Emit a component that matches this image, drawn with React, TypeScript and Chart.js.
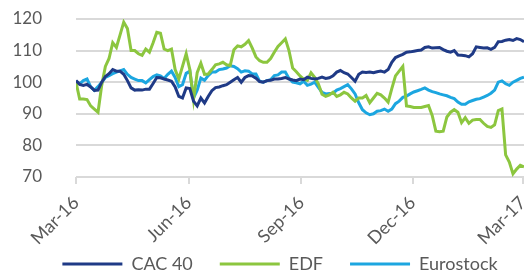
import { useEffect, useRef } from "react";
import { Chart, registerables } from "chart.js";

Chart.register(...registerables);

// Days since 1 Mar 2016
const days = [
  0, 3, 6, 9, 12, 15, 18, 21, 24, 27, 30, 33, 36, 39, 42, 45, 48, 51, 54, 57,
  60, 63, 66, 69, 72, 75, 78, 81, 84, 87, 90, 93, 96, 99, 102, 105, 108, 111, 114, 117,
  120, 123, 126, 129, 132, 135, 138, 141, 144, 147, 150, 153, 156, 159, 162, 165, 168, 171, 174, 177,
  180, 183, 186, 189, 192, 195, 198, 201, 204, 207, 210, 213, 216, 219, 222, 225, 228, 231, 234, 237,
  240, 243, 246, 249, 252, 255, 258, 261, 264, 267, 270, 273, 276, 279, 282, 285, 288, 291, 294, 297,
  300, 303, 306, 309, 312, 315, 318, 321, 324, 327, 330, 333, 336, 339, 342, 345, 348, 351, 354, 357,
  360, 363, 366,
];

const cac40 = [
  100.5, 99.3, 99, 99.3, 98.5, 97.4, 97.5, 100, 101.8, 102.7, 104, 103.5, 103.5, 102.5, 100.5, 98.2, 97.5, 97.6, 97.5, 97.8,
  97.8, 99.6, 101.5, 101.4, 101, 100.7, 100.3, 98.5, 95.5, 95, 98.2, 98, 94, 92.5, 95, 93.4, 95.5, 97.3, 98.3, 98.5,
  98.9, 99.2, 100, 100.8, 101.5, 100, 101.5, 102.1, 102, 101.3, 100.2, 100, 100.5, 100.6, 101, 101, 101.2, 101.5, 101, 100.7,
  100.5, 101, 100.8, 101.6, 101.2, 101, 101.2, 101.6, 101.2, 101.4, 102, 103.2, 103.7, 103, 102.6, 101.5, 100.3, 102.5, 103.2, 103.1,
  103.2, 103, 103.3, 103.5, 103.2, 104, 106.3, 107.8, 108.3, 108.8, 109.5, 109.6, 109.8, 110, 110.2, 111, 111.2, 110.8, 110.9, 111,
  110.3, 109.8, 109.5, 110, 108.6, 108.5, 108.4, 108, 109, 111.2, 111, 110.8, 110.9, 110.4, 111, 112.8, 112.9, 113.3, 113.5, 113.2,
  113.8, 113.5, 112.8,
];

const edf = [
  100, 94.7, 94.7, 94.5, 92.5, 91.5, 90.5, 99, 105, 107.5, 112.5, 111, 115, 119, 117, 110, 110, 109, 108.5, 110.5,
  109.5, 112.5, 115.8, 115.5, 110.5, 110, 110.5, 104, 101, 105, 109, 104, 94.5, 103, 106, 102.5, 102.6, 104, 105.5, 105.8,
  106.3, 105.5, 105.3, 110.3, 111.5, 111.2, 112, 113.2, 110.8, 108, 106.8, 106.3, 106.3, 107.5, 109.5, 111.3, 112.5, 113.7, 110, 104.5,
  103.3, 102, 101, 100.6, 103, 101.5, 99.5, 96.2, 95.5, 96, 96.8, 95.5, 96, 96.8, 96.3, 95, 94, 95, 95, 95.8,
  93.5, 95, 96.5, 96, 95, 93.7, 98, 102, 103.5, 105, 92.5, 92.3, 92, 92, 92, 92.3, 92.6, 89.5, 84.5, 84.3,
  84.5, 89, 90.5, 91.3, 90.5, 87.2, 88.8, 87, 88, 88.2, 88.2, 87, 86, 85.7, 86.5, 91, 91.5, 77, 74.7, 71,
  72.5, 73.7, 73.2,
];

const eurostock = [
  100.3, 99.5, 100.5, 101, 98.5, 97.4, 98.6, 100, 101.5, 102.1, 102.7, 103.2, 103.6, 104, 102.5, 101.5, 101, 100.5, 100.5, 99.8,
  100.8, 101.8, 102.3, 102, 101.2, 102.5, 103.5, 101.5, 98.6, 99.2, 102.8, 103.5, 95, 97.5, 101.3, 100.6, 102.1, 103.2, 103.2, 104,
  104.2, 104.5, 105.2, 105, 104.3, 103.2, 103.6, 103.5, 102.6, 102.6, 100.3, 100, 100.5, 100.8, 102.1, 102.3, 103.2, 103.2, 101.2, 100,
  99.8, 99.5, 100.3, 99, 99.4, 100, 98.4, 96.8, 96.3, 96.4, 96.5, 97.5, 98, 98.6, 99.2, 97.9, 96.3, 93.5, 91.3, 90.3,
  89.7, 90, 90.8, 91, 91.5, 90.8, 91.5, 93.2, 94, 95.2, 95.6, 96.3, 96.9, 97.3, 97.7, 98.2, 97.5, 97, 96.7, 96.3,
  96, 95.7, 95.2, 94.8, 93.7, 93, 93, 93.8, 94.2, 94.6, 94.8, 95.3, 95.8, 96.5, 97.5, 100, 100.4, 99.5, 99, 100,
  100.6, 101.2, 101.6,
];

const tickDays = [0, 92, 184, 275, 365];
const tickLabels = ["Mar-16", "Jun-16", "Sep-16", "Dec-16", "Mar-17"];
const yTicks = [70, 80, 90, 100, 110, 120];

const seriesNames = ["CAC 40", "EDF", "Eurostock"];
const seriesColors = ["#1f3a86", "#8cc63f", "#1ca6e0"];

const FONT = "Lato, 'Open Sans', sans-serif";
const TEXT = "#595959";
const GRID = "#d9d9d9";

const layoutTweak = {
  id: "layoutTweak",
  afterLayout(chart: any) {
    const lg = chart.legend;
    if (lg) {
      lg.left += 18;
      lg.right += 18;
      lg.top += 7;
      lg.bottom += 7;
    }
    const xs = chart.scales.x;
    if (xs) xs.bottom = chart.height;
  },
};

export default function App() {
  const ref = useRef<HTMLCanvasElement | null>(null);

  useEffect(() => {
    document.body.style.margin = "0";
    const canvas = ref.current;
    if (!canvas) return;
    const allSeries = [cac40, edf, eurostock];
    const chart = new Chart(canvas, {
      type: "line",
      data: {
        datasets: allSeries.map((vals, i) => ({
          label: seriesNames[i],
          data: days.map((d, j) => ({ x: d, y: vals[j] })),
          borderColor: seriesColors[i],
          backgroundColor: seriesColors[i],
          borderWidth: 3,
          pointRadius: 0,
          tension: 0,
        })),
      },
      plugins: [layoutTweak],
      options: {
        animation: false,
        responsive: true,
        maintainAspectRatio: false,
        layout: { padding: { top: 19, right: 0, left: 0, bottom: 0 } },
        plugins: {
          tooltip: { enabled: false },
          legend: {
            position: "bottom",
            labels: {
              boxWidth: 60,
              boxHeight: 3,
              padding: 27,
              color: TEXT,
              font: { family: FONT, size: 18 },
              generateLabels: (c: any) =>
                Chart.defaults.plugins.legend.labels
                  .generateLabels(c)
                  .map((l: any) => ({ ...l, lineWidth: 0 })),
            },
          },
        },
        scales: {
          x: {
            type: "linear",
            min: 0,
            max: 366,
            afterBuildTicks: (s: any) => {
              s.ticks = tickDays.map((v) => ({ value: v }));
            },
            afterFit: (s: any) => {
              s.paddingRight = 0;
              s.paddingLeft = 0;
              s.height = 44;
            },
            ticks: {
              autoSkip: false,
              minRotation: 45,
              maxRotation: 45,
              padding: 8,
              color: TEXT,
              font: { family: FONT, size: 18 },
              callback: (v: any) => {
                const i = tickDays.indexOf(Number(v));
                return i >= 0 ? tickLabels[i] : "";
              },
            },
            grid: {
              drawOnChartArea: false,
              color: GRID,
              lineWidth: 2,
              tickLength: 7,
            },
            border: { display: false },
          },
          y: {
            min: 70,
            max: 120,
            afterBuildTicks: (s: any) => {
              s.ticks = yTicks.map((v) => ({ value: v }));
            },
            afterFit: (s: any) => {
              s.width = 76;
              s.paddingTop = 0;
              s.paddingBottom = 0;
            },
            ticks: {
              autoSkip: false,
              padding: 34,
              color: TEXT,
              font: { family: FONT, size: 17 },
            },
            grid: { color: GRID, lineWidth: 2, drawTicks: false },
            border: { display: false },
          },
        },
      },
    });
    return () => chart.destroy();
  }, []);

  return (
    <div style={{ width: 524, height: 276, position: "relative" }}>
      <canvas ref={ref} />
    </div>
  );
}
